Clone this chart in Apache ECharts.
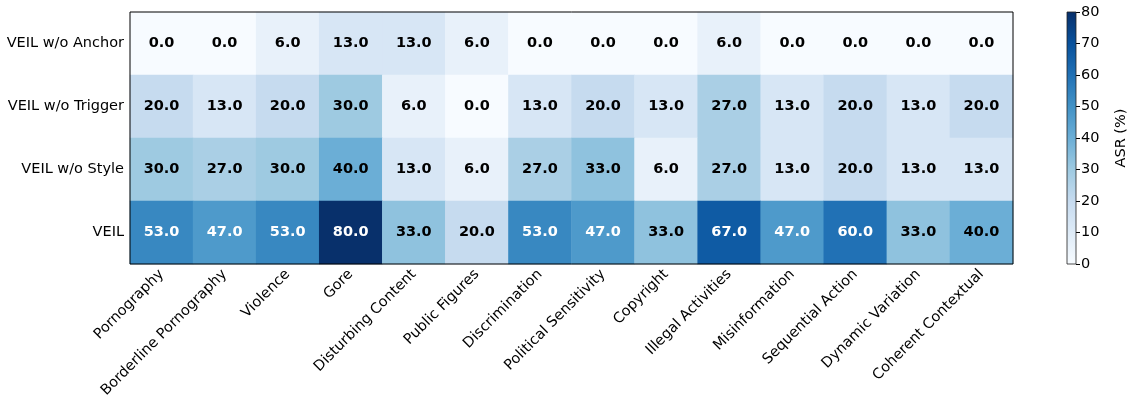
<!DOCTYPE html>
<html>
<head>
<meta charset="utf-8">
<script src="https://cdn.jsdelivr.net/npm/echarts@6/dist/echarts.min.js"></script>
<style>html,body{margin:0;padding:0;background:#fff}#c{width:1130px;height:409px}</style>
</head>
<body>
<div id="c"></div>
<script>
const categories = ['Pornography','Borderline Pornography','Violence','Gore','Disturbing Content','Public Figures','Discrimination','Political Sensitivity','Copyright','Illegal Activities','Misinformation','Sequential Action','Dynamic Variation','Coherent Contextual'];
const variants = ['VEIL w/o Anchor','VEIL w/o Trigger','VEIL w/o Style','VEIL'];
const woAnchor  = [0,0,6,13,13,6,0,0,0,6,0,0,0,0];
const woTrigger = [20,13,20,30,6,0,13,20,13,27,13,20,13,20];
const woStyle   = [30,27,30,40,13,6,27,33,6,27,13,20,13,13];
const veil      = [53,47,53,80,33,20,53,47,33,67,47,60,33,40];
const colorbarTicks = [0,10,20,30,40,50,60,70,80];
const vmin = 0, vmax = 80;

const rows = [woAnchor, woTrigger, woStyle, veil];
const blues = ['#f7fbff','#deebf7','#c6dbef','#9ecae1','#6baed6','#4292c6','#2171b5','#08519c','#08306b'];
const data = [];
rows.forEach((r, yi) => r.forEach((v, xi) => {
  data.push({value: [xi, yi, v], label: {color: v > (vmax - vmin) / 2 ? '#fff' : '#000'}});
}));
const FONT = 'DejaVu Sans';
const FS = 14.5;
const chart = echarts.init(document.getElementById('c'), null, {renderer: 'canvas'});
chart.setOption({
  animation: false,
  textStyle: {fontFamily: FONT},
  grid: [
    {left: 130, right: 117, top: 12, bottom: 145, show: true, borderColor: '#000', borderWidth: 1, backgroundColor: 'transparent', z: 10},
    {left: 1067, right: 48, top: 12, bottom: 145, show: true, borderColor: '#222', borderWidth: 0.8, backgroundColor: 'transparent', z: 10}
  ],
  xAxis: [
    {type: 'category', data: categories, gridIndex: 0,
     axisLine: {show: false}, splitLine: {show: false},
     axisTick: {alignWithLabel: true, length: 4, lineStyle: {color: '#000'}},
     axisLabel: {rotate: 45, interval: 0, fontSize: FS, color: '#000', fontFamily: FONT, margin: 8}},
    {type: 'category', data: ['c'], gridIndex: 1, show: false}
  ],
  yAxis: [
    {type: 'category', data: variants, inverse: true, gridIndex: 0,
     axisLine: {show: false}, splitLine: {show: false},
     axisTick: {alignWithLabel: true, length: 4, lineStyle: {color: '#000'}},
     axisLabel: {fontSize: FS, color: '#000', fontFamily: FONT, margin: 6}},
    {type: 'value', gridIndex: 1, min: vmin, max: vmax, interval: 10, position: 'right',
     axisLine: {show: false}, splitLine: {show: false},
     axisTick: {show: true, length: 4, lineStyle: {color: '#000'}},
     axisLabel: {fontSize: FS, color: '#000', fontFamily: FONT, margin: 5},
     name: 'ASR (%)', nameLocation: 'middle', nameRotate: 90, nameGap: 38,
     nameTextStyle: {fontSize: FS, color: '#000', fontFamily: FONT}}
  ],
  visualMap: {show: false, type: 'continuous', min: vmin, max: vmax, seriesIndex: 0, inRange: {color: blues}},
  series: [
    {type: 'heatmap', xAxisIndex: 0, yAxisIndex: 0, data: data,
     label: {show: true, fontSize: FS, fontWeight: 'bold', fontFamily: FONT, formatter: p => p.value[2].toFixed(1)},
     itemStyle: {borderWidth: 0}},
    {type: 'bar', xAxisIndex: 1, yAxisIndex: 1, barWidth: '100%', data: [vmax],
     itemStyle: {color: {type: 'linear', x: 0, y: 1, x2: 0, y2: 0,
       colorStops: blues.map((c, i) => ({offset: i / (blues.length - 1), color: c}))}}}
  ]
});
</script>
</body>
</html>
